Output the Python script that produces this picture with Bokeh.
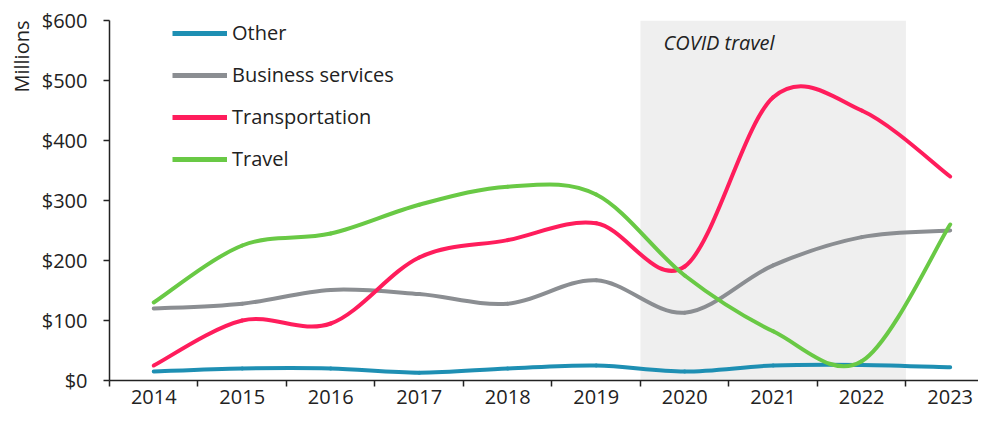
from bokeh.plotting import figure
from bokeh.models import (FixedTicker, NumeralTickFormatter, BoxAnnotation, Label,
                          Legend, LegendItem, ColumnDataSource, Range1d, Title)
from bokeh.embed import file_html
from bokeh.resources import INLINE

years = [2014, 2015, 2016, 2017, 2018, 2019, 2020, 2021, 2022, 2023]
other = [15, 20, 20, 13, 20, 25, 15, 25, 26, 22]
business = [120, 128, 151, 144, 128, 167, 113, 192, 239, 250]
transport = [25, 100, 95, 205, 234, 262, 190, 472, 450, 340]
travel = [130, 225, 245, 293, 323, 310, 175, 82, 32, 260]
series_names = ["Other", "Business services", "Transportation", "Travel"]
colors = ["#1e8fb3", "#8b8e92", "#ff1d5c", "#69c945"]
y_ticks = [0, 100, 200, 300, 400, 500, 600]
covid_start, covid_end = 2019.5, 2022.5

FONT = "Open Sans"

p = figure(width=978, height=410, output_backend="svg", toolbar_location=None,
           x_range=Range1d(2013.5, 2023.32), y_range=Range1d(0, 600),
           min_border_left=109, min_border_right=0, min_border_top=20,
           min_border_bottom=30)
p.outline_line_color = None
p.grid.visible = False
p.background_fill_color = "white"

p.add_layout(BoxAnnotation(left=covid_start, right=covid_end, bottom=0, top=600,
                           fill_color="#efefef", fill_alpha=1.0, line_color=None,
                           level="underlay"))


def bezier_segments(xs, ys):
    n = len(xs)
    d = dict(x0=[], y0=[], x1=[], y1=[], cx0=[], cy0=[], cx1=[], cy1=[])
    for i in range(n - 1):
        xp, yp = (xs[i - 1], ys[i - 1]) if i > 0 else (xs[i], ys[i])
        xn, yn = (xs[i + 2], ys[i + 2]) if i + 2 < n else (xs[i + 1], ys[i + 1])
        d["x0"].append(xs[i]); d["y0"].append(ys[i])
        d["x1"].append(xs[i + 1]); d["y1"].append(ys[i + 1])
        d["cx0"].append(xs[i] + (xs[i + 1] - xp) / 6.0)
        d["cy0"].append(ys[i] + (ys[i + 1] - yp) / 6.0)
        d["cx1"].append(xs[i + 1] - (xn - xs[i]) / 6.0)
        d["cy1"].append(ys[i + 1] - (yn - ys[i]) / 6.0)
    return ColumnDataSource(d)


items = []
for name, vals, col in zip(series_names, [other, business, transport, travel], colors):
    p.bezier(x0="x0", y0="y0", x1="x1", y1="y1", cx0="cx0", cy0="cy0", cx1="cx1",
             cy1="cy1", source=bezier_segments(years, vals), line_color=col,
             line_width=4, line_cap="round")
    r = p.line(x=years, y=vals, line_color=col, line_width=5, visible=False)
    items.append(LegendItem(label=name, renderers=[r]))

legend = Legend(items=items, location=(63, 208), padding=0, margin=0, spacing=15,
                glyph_width=55, glyph_height=20, label_standoff=5,
                label_text_font=FONT, label_text_font_size="20px",
                label_text_color="#222222", background_fill_alpha=0,
                border_line_color=None)
p.add_layout(legend, "center")

p.add_layout(Label(x=2019.76, y=563, text="COVID travel", text_font=FONT,
                   text_font_size="20px", text_font_style="italic",
                   text_color="#222222", text_baseline="middle"))

# y-axis caption at the top of the axis
p.add_layout(Title(text="Millions", align="right", text_font=FONT,
                   text_font_size="20px", text_font_style="normal",
                   text_color="#222222", standoff=8, offset=0), "left")

# x axis
xa = p.xaxis[0]
xa.ticker = FixedTicker(ticks=years, minor_ticks=[y - 0.5 for y in years])
xa.major_tick_out = 0
xa.major_tick_in = 0
xa.minor_tick_out = 6
xa.minor_tick_in = 0
xa.minor_tick_line_color = "#222222"
xa.minor_tick_line_width = 1.5
xa.axis_line_color = "#222222"
xa.axis_line_width = 1.5
xa.major_label_text_font = FONT
xa.major_label_text_font_size = "20px"
xa.major_label_text_color = "#222222"
xa.major_label_standoff = 3

ya = p.yaxis[0]
ya.ticker = FixedTicker(ticks=y_ticks)
ya.formatter = NumeralTickFormatter(format="$0")
ya.major_tick_out = 6
ya.major_tick_in = 0
ya.minor_tick_line_color = None
ya.axis_line_color = "#222222"
ya.axis_line_width = 1.5
ya.major_tick_line_color = "#222222"
ya.major_tick_line_width = 1.5
ya.major_label_text_font = FONT
ya.major_label_text_font_size = "20px"
ya.major_label_text_color = "#222222"
ya.major_label_standoff = 16

open("out.html", "w").write(file_html(p, INLINE))
